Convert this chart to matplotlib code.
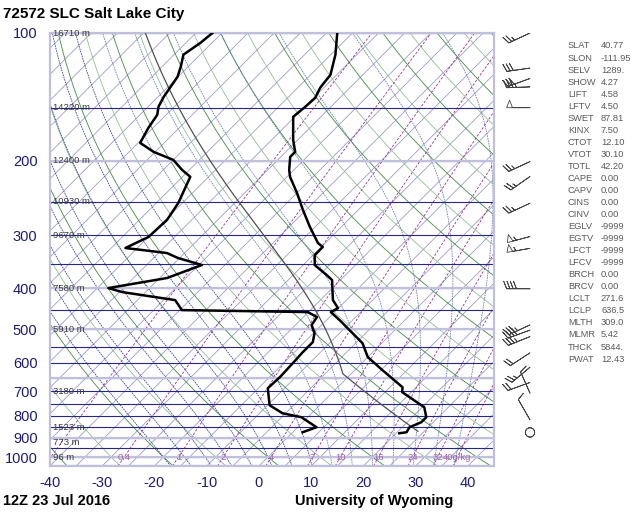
import numpy as np
import matplotlib
matplotlib.use('Agg')
from matplotlib import pyplot as plt

plt.rcParams['font.family'] = ['Liberation Sans', 'DejaVu Sans']
plt.rcParams['axes.unicode_minus'] = False

# sounding (hPa, degC)
temp_p = [100.0, 112.5, 125.5, 134.6, 142.2, 149.3, 157.6, 178.6, 190.7, 195.9, 210.3, 218.4,
          238.3, 261.4, 286.7, 312.8, 319.7, 333.9, 352.5, 372.2, 382.5, 426.5, 445.4, 455.2,
          475.4, 538.8, 581.4, 624.0, 684.5, 703.2, 763.1, 805.7, 827.9, 850.7, 874.1, 878.9]
temp_t = [-67.9, -64.1, -61.2, -60.7, -59.7, -59.9, -60.3, -55.9, -53.2, -53.2, -50.9, -49.4,
          -45.0, -40.6, -36.0, -31.4, -29.7, -29.7, -27.8, -23.6, -21.6, -17.6, -15.1, -15.7,
          -12.5, -3.7, 0.0, 5.3, 12.4, 13.3, 20.4, 22.7, 22.7, 21.4, 21.8, 20.6]

dwpt_p = [100.0, 105.4, 112.5, 120.1, 126.8, 133.9, 141.4, 149.3, 155.9, 167.4, 181.6, 190.7,
          199.2, 210.3, 218.4, 251.6, 276.0, 302.7, 321.4, 330.3, 339.4, 352.5, 378.4, 399.5,
          408.3, 426.5, 450.3, 455.2, 467.7, 488.5, 510.2, 535.9, 565.8, 600.6, 648.2, 688.2,
          754.8, 788.4, 805.7, 850.7, 874.1]
dwpt_t = [-91.8, -92.2, -93.2, -91.4, -90.1, -89.5, -88.9, -88.0, -86.7, -85.9, -84.6, -80.3,
          -75.0, -71.4, -68.5, -65.8, -64.7, -65.0, -67.3, -58.4, -55.3, -49.4, -53.6, -62.9,
          -59.5, -47.8, -44.6, -20.1, -17.4, -16.9, -14.8, -13.4, -13.4, -13.2, -13.0, -13.2,
          -9.6, -5.6, -1.2, 3.6, 1.9]

# winds (hPa, direction deg, knots)
wind_p = [100, 121, 128, 134, 150, 201, 218, 252, 302, 322, 401, 488, 502, 520, 568, 614, 667, 707, 817, 875]
wind_dir = [245, 262, 250, 268, 270, 245, 235, 245, 255, 260, 270, 245, 250, 248, 237, 230, 250, 336, 330, 0]
wind_kt = [25, 30, 30, 35, 50, 25, 25, 25, 55, 55, 40, 35, 40, 35, 20, 25, 20, 10, 10, 0]

# geopotential heights at mandatory levels
hght_p = [100, 150, 200, 250, 300, 400, 500, 700, 850, 925, 1000]
hght_lbl = ['16710 m', '14220 m', '12400 m', '10930 m', '9670 m', '7580 m',
            '5910 m', '3180 m', '1523 m', '773 m', '96 m']

index_names = ['SLAT', 'SLON', 'SELV', 'SHOW', 'LIFT', 'LFTV', 'SWET', 'KINX', 'CTOT',
               'VTOT', 'TOTL', 'CAPE', 'CAPV', 'CINS', 'CINV', 'EGLV', 'EGTV', 'LFCT',
               'LFCV', 'BRCH', 'BRCV', 'LCLT', 'LCLP', 'MLTH', 'MLMR', 'THCK', 'PWAT']
index_vals = ['40.77', '-111.95', '1289.', '4.27', '4.58', '4.50', '87.81', '7.50', '12.10',
              '30.10', '42.20', '0.00', '0.00', '0.00', '0.00', '-9999', '-9999', '-9999',
              '-9999', '0.00', '0.00', '271.6', '636.5', '309.0', '5.42', '5844.', '12.43']

mixr_vals = [0.1, 0.4, 1, 2, 4, 7, 10, 16, 24, 32, 40]
mixr_lbls = ['', '0.4', '1', '2', '4', '7', '10', '16', '24', '32', '40g/kg']

mlth = 309.0      # K
lclp = 636.5      # hPa
sfc_p = 870.0

P_BOT, P_TOP = 1050.0, 100.0
T_LEFT, T_RIGHT = -40.0, 45.0

# layout (figure pixels)
W, H = 640, 512
AX_L, AX_R, AX_T, AX_B = 50, 494, 33, 466
K = ((AX_B - AX_T) / np.log(P_BOT / P_TOP)) / ((AX_R - AX_L) / (T_RIGHT - T_LEFT))

NAVY = '#1c1c78'


def skx(t, p):
    return np.asarray(t, dtype=float) + K * np.log(P_BOT / np.asarray(p, dtype=float))


def sat_mixr(p, tk):
    tc = tk - 273.15
    es = 6.112 * np.exp(17.67 * tc / (tc + 243.5))
    return 0.622 * es / (p - es)


def moist_dtdp(p, tk):
    rs = sat_mixr(p, tk)
    num = 287.04 * tk + 2.501e6 * rs
    den = 1005.7 + 2.501e6 ** 2 * rs * 0.622 / (287.04 * tk ** 2)
    return num / den / p


def moist_path(t0, p0, p1, n=300):
    ps = np.linspace(p0, p1, n)
    ts = [t0 + 273.15]
    for i in range(1, n):
        dp = ps[i] - ps[i - 1]
        tk = ts[-1]
        k1 = moist_dtdp(ps[i - 1], tk)
        k2 = moist_dtdp(ps[i - 1] + dp / 2, tk + k1 * dp / 2)
        k3 = moist_dtdp(ps[i - 1] + dp / 2, tk + k2 * dp / 2)
        k4 = moist_dtdp(ps[i], tk + k3 * dp)
        ts.append(tk + dp * (k1 + 2 * k2 + 2 * k3 + k4) / 6)
    return ps, np.array(ts) - 273.15


def mixr_td(w, p):
    e = w * p / (622.0 + w)
    a = np.log(e / 6.112)
    return 243.5 * a / (17.67 - a)


fig = plt.figure(figsize=(W / 100, H / 100), dpi=100)
ax = fig.add_axes([AX_L / W, 1 - AX_B / H, (AX_R - AX_L) / W, (AX_B - AX_T) / H])
ax.set_yscale('log')
ax.set_ylim(P_BOT, P_TOP)
ax.set_xlim(T_LEFT, T_RIGHT)

pp = np.geomspace(P_BOT, P_TOP, 200)

# isotherms
for t in np.arange(-150, 50, 5):
    ax.plot(skx([t, t], [P_BOT, P_TOP]), [P_BOT, P_TOP], color='#9c9ccc', lw=0.6, zorder=1)

# dry adiabats
for i, th in enumerate(np.arange(-40, 200, 10)):
    tt = (th + 273.15) * (pp / 1000.0) ** 0.2857 - 273.15
    col = '#3d8f3d' if i % 2 == 0 else '#8fc08f'
    ax.plot(skx(tt, pp), pp, color=col, lw=0.6, zorder=1)

# moist adiabats
for t0 in np.arange(-20, 40, 4):
    pu, tu = moist_path(t0, 1000.0, P_TOP)
    pd_, td_ = moist_path(t0, 1000.0, P_BOT, n=20)
    ps = np.concatenate([pd_[::-1], pu[1:]])
    ts = np.concatenate([td_[::-1], tu[1:]])
    col = '#3a46a0' if t0 < 12 else '#7080b8'
    ax.plot(skx(ts, ps), ps, color=col, lw=0.6, ls=(0, (2, 1)), zorder=1)

# mixing ratio lines
for w, lbl in zip(mixr_vals, mixr_lbls):
    tw = mixr_td(w, pp)
    ax.plot(skx(tw, pp), pp, color='#9a2a9a', lw=0.6, ls=(0, (3, 2)), zorder=1)
    if lbl:
        ax.text(skx(mixr_td(w, 1000.0), 1000.0), 1000.0, lbl, color='#a060a8',
                fontsize=6.8, ha='center', va='center', zorder=3)

# isobars
for p in np.arange(100, 1051, 50):
    ax.axhline(p, color='#262688', lw=0.8, zorder=2)
for p in [100, 200, 400, 500, 650, 900, 1000, 1050]:
    ax.axhline(p, color='#c0c0dc', lw=1.6, zorder=2)
for s in ax.spines.values():
    s.set_color('#c0c0dc')
    s.set_linewidth(1.6)

# heights
for p, lbl in zip(hght_p, hght_lbl):
    ax.text(0.007, p, lbl, transform=ax.get_yaxis_transform(), fontsize=6.8,
            color='#3a3a3a', ha='left', va='center', zorder=4)

# parcel path
pdry = np.geomspace(sfc_p, lclp, 40)
tdry = mlth * (pdry / 1000.0) ** 0.2857 - 273.15
pm, tm = moist_path(tdry[-1], lclp, P_TOP)
ax.plot(skx(np.concatenate([tdry, tm]), np.concatenate([pdry, pm])),
        np.concatenate([pdry, pm]), color='#505050', lw=0.9, zorder=5)

# temperature and dewpoint
ax.plot(skx(temp_t, temp_p), temp_p, color='black', lw=1.8, zorder=6)
ax.plot(skx(dwpt_t, dwpt_p), dwpt_p, color='black', lw=1.8, zorder=6)

ax.set_xticks(np.arange(-40, 41, 10))
ax.set_xticklabels([str(t) for t in range(-40, 41, 10)])
ax.set_yticks(np.arange(100, 1001, 100))
ax.set_yticklabels([str(p) for p in range(100, 1001, 100)])
ax.yaxis.set_minor_locator(matplotlib.ticker.NullLocator())
ax.tick_params(axis='both', length=0, labelsize=10.5, labelcolor=NAVY)
ax.tick_params(axis='x', pad=7.5)
ax.tick_params(axis='y', pad=9)

# wind barbs
axb = fig.add_axes([497 / W, 1 - AX_B / H, 63 / W, (AX_B - AX_T) / H], sharey=ax)
axb.set_xlim(0, 1)
axb.axis('off')
rad = np.deg2rad(wind_dir)
u = -np.array(wind_kt) * np.sin(rad)
v = -np.array(wind_kt) * np.cos(rad)
axb.barbs(np.full(len(wind_p), 33 / 63), wind_p, u, v, length=5.8, pivot='tip',
          barbcolor='#444444', flagcolor='white', linewidth=0.6,
          sizes=dict(spacing=0.14, height=0.32, width=0.25, emptybarb=0.2))
axb.set_ylim(P_BOT, P_TOP)

# station indices
for i, (n, val) in enumerate(zip(index_names, index_vals)):
    y = 1 - (46 + 12.04 * i) / H
    fig.text(568 / W, y, n, fontsize=6.7, color='#5a5a5a', va='center', ha='left')
    fig.text(601 / W, y, val, fontsize=6.7, color='#5a5a5a', va='center', ha='left')

fig.text(3 / W, 1 - 14 / H, '72572 SLC Salt Lake City', fontsize=11, fontweight='bold',
         va='center', ha='left')
fig.text(3 / W, 1 - 501 / H, '12Z 23 Jul 2016', fontsize=10.5, fontweight='bold',
         va='center', ha='left')
fig.text(295 / W, 1 - 501 / H, 'University of Wyoming', fontsize=10.5, fontweight='bold',
         va='center', ha='left')

fig.savefig('out.png', dpi=100)
